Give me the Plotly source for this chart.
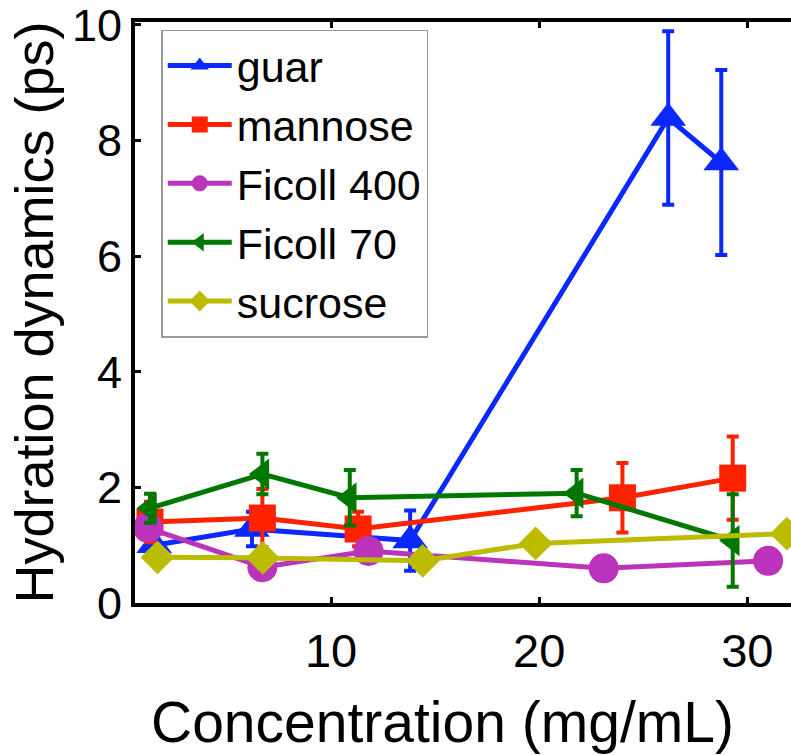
import plotly.graph_objects as go

# ---- data ----
series_names = ["guar", "mannose", "Ficoll 400", "Ficoll 70", "sucrose"]

guar_x = [1.5, 6.2, 13.8, 26.2, 28.75]
guar_y = [1.0, 1.28, 1.08, 8.39, 7.62]
guar_err = [0.15, 0.3, 0.52, 1.5, 1.6]

mannose_x = [1.3, 6.7, 11.3, 24.0, 29.3]
mannose_y = [1.4, 1.47, 1.28, 1.82, 2.16]
mannose_err = [0.35, 0.5, 0.3, 0.6, 0.72]

ficoll400_x = [1.2, 6.7, 11.8, 23.1, 31.0]
ficoll400_y = [1.3, 0.62, 0.9, 0.6, 0.73]
ficoll400_err = [0.08, 0.08, 0.08, 0.08, 0.08]

ficoll70_x = [1.3, 6.7, 10.9, 21.8, 29.3]
ficoll70_y = [1.64, 2.23, 1.82, 1.9, 1.08]
ficoll70_err = [0.25, 0.35, 0.48, 0.4, 0.8]

sucrose_x = [1.66, 6.72, 14.4, 19.83, 31.9]
sucrose_y = [0.79, 0.78, 0.73, 1.03, 1.2]
sucrose_err = [0.05, 0.05, 0.05, 0.05, 0.05]

x_ticks = [10, 20, 30]
y_ticks = [0, 2, 4, 6, 8, 10]
x_title = "Concentration (mg/mL)"
y_title = "Hydration dynamics (ps)"

colors = ["#0A28FF", "#FF2200", "#BB33BB", "#007800", "#BBBB00"]
symbols = ["triangle-up", "square", "circle", "triangle-left", "diamond"]
sizes = [31, 27, 30, 27, 26]

xs = [guar_x, mannose_x, ficoll400_x, ficoll70_x, sucrose_x]
ys = [guar_y, mannose_y, ficoll400_y, ficoll70_y, sucrose_y]
errs = [guar_err, mannose_err, ficoll400_err, ficoll70_err, sucrose_err]

FONT = "Liberation Sans, Arial, sans-serif"

fig = go.Figure()
for i, name in enumerate(series_names):
    fig.add_trace(go.Scatter(
        x=xs[i], y=ys[i], name=name, mode="lines+markers",
        legendgroup=name,
        line=dict(color=colors[i], width=5),
        marker=dict(symbol=symbols[i], size=sizes[i], color=colors[i],
                    line=dict(width=0)),
        error_y=dict(type="data", array=errs[i], visible=True,
                     color=colors[i], thickness=4, width=6),
        cliponaxis=False,
    ))

fig.update_layout(
    width=791, height=755,
    margin=dict(l=135, r=0, t=17, b=152),
    paper_bgcolor="white", plot_bgcolor="white",
    font=dict(family=FONT, color="black"),
    showlegend=True,
    legend=dict(
        x=0.04, y=0.987, xanchor="left", yanchor="top",
        bgcolor="white", bordercolor="#999999", borderwidth=1.5,
        font=dict(size=43, family=FONT, color="black"),
        tracegroupgap=0, itemwidth=64,
    ),
    xaxis=dict(
        range=[0.58, 32.1], tickvals=x_ticks, ticktext=[str(v) for v in x_ticks],
        showgrid=False, zeroline=False,
        showline=True, linecolor="black", linewidth=4, mirror="ticks",
        ticks="inside", ticklen=6, tickwidth=3, tickcolor="black",
        tickfont=dict(size=47, family=FONT), ticklabelstandoff=4,
    ),
    yaxis=dict(
        range=[0, 10.05], tickvals=y_ticks, ticktext=[str(v) for v in y_ticks],
        showgrid=False, zeroline=False,
        showline=True, linecolor="black", linewidth=4, mirror=False,
        ticks="inside", ticklen=6, tickwidth=3, tickcolor="black",
        tickfont=dict(size=45, family=FONT), ticklabeloverflow="allow",
        title=dict(text=y_title, font=dict(size=54, family=FONT),
                   standoff=2),
    ),
    annotations=[dict(
        text=x_title, xref="paper", yref="paper",
        x=(442 - 135) / (791 - 135), y=-0.204, xanchor="center", yanchor="middle",
        showarrow=False, font=dict(size=57, family=FONT, color="black"),
    )],
)

fig.write_html("out.html")
